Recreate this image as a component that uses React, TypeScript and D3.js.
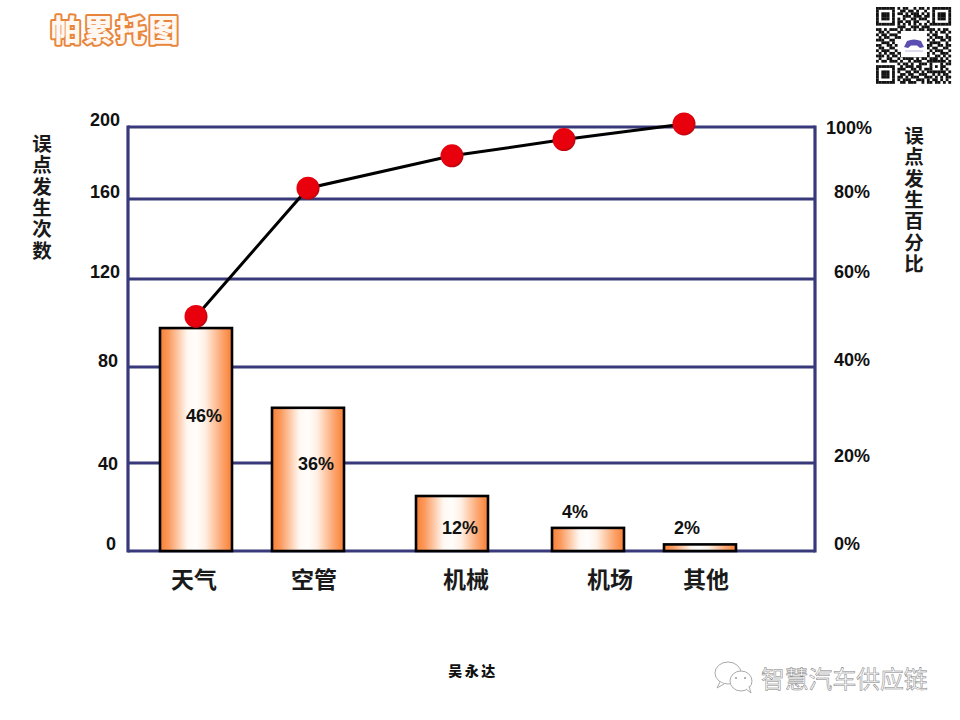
import React from "react";
import * as d3 from "d3";

const categories = ["天气", "空管", "机械", "机场", "其他"];
const counts = [97.7, 63, 25, 10.5, 3];
const shareLabels = ["46%", "36%", "12%", "4%", "2%"];
const cumulativeOnCountAxis = [103, 166, 184, 193, 201.7];
const pointKeys = ["p1", "p2", "p3", "p4", "p5"];
const leftTicks = [0, 40, 80, 120, 160, 200];
const rightTickLabels = ["0%", "20%", "40%", "60%", "80%", "100%"];
const leftTitle = "误点发生次数";
const rightTitle = "误点发生百分比";

// layout of the slide (irregular in the original)
const tickPixels = [551, 463, 367, 279, 199, 127];
const barCenters = [196, 308, 452, 588, 700];
const pointCenters = [196, 308, 452, 564, 684];
const categoryLabelX = [194, 314, 466, 610, 706];
const shareLabelX = [204, 316, 460, 575, 687];
const shareLabelY = [416, 464, 528, 512, 528];
const leftLabelX = [116, 118, 118, 120, 120, 120];
const leftLabelY = [544, 464, 361, 272, 192, 120];
const rightLabelY = [544, 456, 360, 272, 192, 128];

const qrRows = [
  "1111111010110010110101111111",
  "1000001001101101001001000001",
  "1011101011010111010101011101",
  "1011101000111011101101011101",
  "1011101010100110111001011101",
  "1000001011011011000101000001",
  "1111111010101010101011111111",
  "0000000011100111011100000000",
  "1101011101011010110111010110",
  "0110100011101101001010101101",
  "1011011100110011101101100010",
  "0101100111011000110010111011",
  "1110011000000000001101001101",
  "0011101000000000001011110010",
  "1100110100000000000110011011",
  "0110011000000000001101100110",
  "1011100100000000000010111001",
  "0101011011011101001101001110",
  "1110101101100010110100110101",
  "0100110010111101011011101010",
  "1011011101001011100111111101",
  "0000000010110100111010001011",
  "1111111001011101100010101100",
  "1000001011100110101110001010",
  "1011101010011011010111111101",
  "1011101001101100111001010110",
  "1011101011010111001110101011",
  "1000001010111001110101101010",
  "1111111001101110010110110101",
];

const y = d3.scaleLinear().domain(leftTicks).range(tickPixels);
const xBar = d3.scaleOrdinal<string, number>().domain(categories).range(barCenters);
const xPoint = d3.scaleOrdinal<string, number>().domain(pointKeys).range(pointCenters);
const qrX = d3.scaleLinear().domain([0, 28]).range([876, 951]);
const qrY = d3.scaleLinear().domain([0, 28]).range([7, 81]);

const AXIS = "#38387a";
const SANS = "'Liberation Sans', Arial, sans-serif";
const CJK = "'Noto Sans CJK SC', sans-serif";

const linePath = d3
  .line<number>()
  .x((_, i) => xPoint(pointKeys[i]) as number)
  .y((d) => y(d))(cumulativeOnCountAxis) as string;

export default function App() {
  const barW = 72;
  return (
    <svg
      width={960}
      height={720}
      viewBox="0 0 960 720"
      style={{ position: "absolute", left: 0, top: 0, background: "#fff" }}
    >
      <defs>
        <linearGradient id="barFill" x1="0" x2="1" y1="0" y2="0">
          <stop offset="0" stopColor="#f97f33" />
          <stop offset="0.12" stopColor="#fb9a5e" />
          <stop offset="0.38" stopColor="#fff8f2" />
          <stop offset="0.5" stopColor="#fffdfb" />
          <stop offset="0.62" stopColor="#fff1e6" />
          <stop offset="0.85" stopColor="#fca873" />
          <stop offset="1" stopColor="#f97f33" />
        </linearGradient>
        <radialGradient id="dot" cx="0.45" cy="0.45" r="0.6">
          <stop offset="0.75" stopColor="#e8000c" />
          <stop offset="1" stopColor="#9c0a10" />
        </radialGradient>
      </defs>

      {/* title */}
      <text
        x={51}
        y={41}
        fontFamily={CJK}
        fontWeight={900}
        fontSize={30}
        letterSpacing={2.5}
        fill="#fff8f2"
        stroke="#e8853c"
        strokeWidth={4}
        strokeLinejoin="round"
        style={{ paintOrder: "stroke" }}
      >
        帕累托图
      </text>

      {/* QR code */}
      <g fill="#111">
        {qrRows.flatMap((row, r) =>
          row.split("").map((c, k) =>
            c === "1" ? (
              <rect key={`${r}-${k}`} x={qrX(k)} y={qrY(r)} width={2.8} height={2.8} />
            ) : null
          )
        )}
      </g>
      <rect x={901} y={31} width={26} height={26} fill="#fff" />
      <path
        d="M904 47 L907 41 Q914 38 921 41 L924 47 L920 48 L917 45.5 L911 45.5 L908 48 Z"
        fill="#5a4fb0"
      />
      <line x1={905} x2={923} y1={51} y2={51} stroke="#b9b4de" strokeWidth={1} />

      {/* grid */}
      <g stroke={AXIS} strokeWidth={3.2} fill="none">
        {leftTicks.map((t) => (
          <line key={t} x1={128} x2={815} y1={y(t)} y2={y(t)} />
        ))}
        <line x1={128} x2={128} y1={y(200) - 1.6} y2={y(0) + 1.6} />
        <line x1={815} x2={815} y1={y(200) - 1.6} y2={y(0) + 1.6} />
      </g>

      {/* bars */}
      {categories.map((c, i) => (
        <rect
          key={c}
          x={(xBar(c) as number) - barW / 2}
          y={y(counts[i])}
          width={barW}
          height={y(0) - y(counts[i])}
          fill="url(#barFill)"
          stroke="#000"
          strokeWidth={2.6}
        />
      ))}

      {/* cumulative line */}
      <path d={linePath} fill="none" stroke="#000" strokeWidth={3} />
      {cumulativeOnCountAxis.map((v, i) => (
        <circle
          key={pointKeys[i]}
          cx={xPoint(pointKeys[i]) as number}
          cy={y(v)}
          r={11.5}
          fill="url(#dot)"
        />
      ))}

      {/* left ticks */}
      <g fontFamily={SANS} fontWeight={700} fontSize={18} fill="#111" textAnchor="end" dominantBaseline="central">
        {leftTicks.map((t, i) => (
          <text key={t} x={leftLabelX[i]} y={leftLabelY[i]}>
            {t}
          </text>
        ))}
      </g>
      {/* right ticks */}
      <g fontFamily={SANS} fontWeight={700} fontSize={18} fill="#111" dominantBaseline="central">
        {rightTickLabels.map((t, i) => (
          <text key={t} x={t === "100%" ? 826 : 834} y={rightLabelY[i]}>
            {t}
          </text>
        ))}
      </g>
      {/* shares */}
      <g fontFamily={SANS} fontWeight={700} fontSize={18} fill="#111" textAnchor="middle" dominantBaseline="central">
        {shareLabels.map((t, i) => (
          <text key={t} x={shareLabelX[i]} y={shareLabelY[i]}>
            {t}
          </text>
        ))}
      </g>
      {/* category labels */}
      <g fontFamily={CJK} fontWeight={700} fontSize={23} fill="#1a1a1a" textAnchor="middle" dominantBaseline="central">
        {categories.map((c, i) => (
          <text key={c} x={categoryLabelX[i]} y={578}>
            {c}
          </text>
        ))}
      </g>
      {/* axis titles */}
      <g
        fontFamily={CJK}
        fontWeight={700}
        fontSize={19.5}
        fill="#1a1a1a"
        letterSpacing={1.8}
        style={{ writingMode: "vertical-rl", textOrientation: "upright" }}
      >
        <text x={42} y={134}>
          {leftTitle}
        </text>
        <text x={914} y={126}>
          {rightTitle}
        </text>
      </g>

      {/* author */}
      <text x={473} y={670} fontFamily={CJK} fontWeight={900} fontSize={14} letterSpacing={2.5} textAnchor="middle" dominantBaseline="central" fill="#111">
        吴永达
      </text>

      {/* watermark */}
      <g fill="#fff" stroke="#aaa" strokeWidth={1}>
        <ellipse cx={728} cy={673} rx={13} ry={11} />
        <path d="M720 682 L717 688 L724 684" />
        <ellipse cx={741} cy={681} rx={11} ry={10} />
        <path d="M746 689 L751 693 L749 686" />
      </g>
      <g fill="#999">
        <circle cx={736} cy={678} r={1} />
        <circle cx={745} cy={678} r={1} />
      </g>
      <text
        x={761}
        y={677}
        fontFamily={CJK}
        fontSize={23.8}
        fill="#fbfbfb"
        stroke="#808080"
        strokeWidth={0.5}
        dominantBaseline="central"
      >
        智慧汽车供应链
      </text>
    </svg>
  );
}
